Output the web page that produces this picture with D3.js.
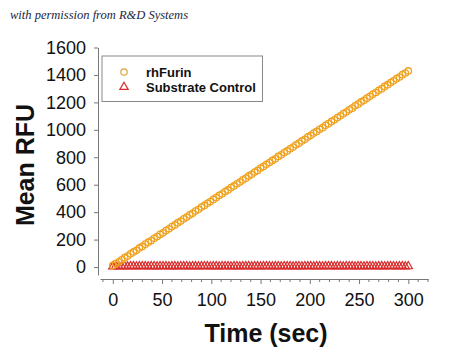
<!DOCTYPE html>
<html>
<head>
<meta charset="utf-8">
<script src="https://cdn.jsdelivr.net/npm/d3@7/dist/d3.min.js"></script>
<style>
html,body{margin:0;padding:0;background:#fff;}
svg{display:block;}
</style>
</head>
<body>
<script>
// ---- data ----
const times = [0,3,6,9,12,15,18,21,24,27,30,33,36,39,42,45,48,51,54,57,60,63,66,69,72,75,78,81,84,87,90,93,96,99,102,105,108,111,114,117,120,123,126,129,132,135,138,141,144,147,150,153,156,159,162,165,168,171,174,177,180,183,186,189,192,195,198,201,204,207,210,213,216,219,222,225,228,231,234,237,240,243,246,249,252,255,258,261,264,267,270,273,276,279,282,285,288,291,294,297,300];
const rhFurin = [12,25,38,52,68,80,96,110,122,139,150,167,181,193,210,222,238,250,266,279,295,307,323,335,352,364,380,392,408,421,437,449,465,477,493,506,522,534,550,562,579,591,607,619,635,648,664,676,692,704,721,733,749,761,777,789,806,818,834,846,862,875,891,903,919,931,948,960,976,988,1004,1016,1033,1045,1061,1073,1089,1102,1118,1130,1146,1158,1175,1187,1203,1215,1231,1244,1260,1272,1288,1300,1316,1329,1345,1357,1373,1385,1402,1414,1429];
const substrateControl = [4,5,4,5,5,4,5,5,4,5,5,5,4,5,5,4,5,5,5,4,5,5,4,5,5,5,4,5,5,4,5,5,5,4,5,5,4,5,5,5,4,5,5,4,5,5,5,4,5,5,4,5,5,5,4,5,5,4,5,5,5,4,5,5,4,5,5,5,4,5,5,4,5,5,5,4,5,5,4,5,5,5,4,5,5,4,5,5,5,4,5,5,4,5,5,5,4,5,5,4,5];
const seriesNames = ["rhFurin", "Substrate Control"];
const yTicks = [0,200,400,600,800,1000,1200,1400,1600];
const xTicks = [0,50,100,150,200,250,300];
const caption = "with permission from R&D Systems";
const xTitle = "Time (sec)";
const yTitle = "Mean RFU";

// ---- drawing ----
const W = 450, H = 355;
const svg = d3.select("body").append("svg").attr("width", W).attr("height", H);

const x = d3.scaleLinear().domain([-13, 320]).range([100, 428]);
const y = d3.scaleLinear().domain([-58, 1600]).range([275, 47.5]);

const orange = "#EFA21E";
const red = "#D92B2B";
const font = "'Liberation Sans', Arial, sans-serif";

// caption
svg.append("text").attr("x", 10).attr("y", 19)
  .attr("font-family", "'Liberation Serif', 'DejaVu Serif', serif")
  .attr("font-style", "italic").attr("font-size", 12.5)
  .attr("fill", "#1c2640").text(caption);

// y axis
const yAxis = d3.axisLeft(y).tickValues(yTicks).tickFormat(d3.format("d"))
  .tickSize(4).tickPadding(8).tickSizeOuter(0);
const gy = svg.append("g").attr("transform", "translate(98,0)").call(yAxis);
gy.select(".domain").attr("stroke", "#777");
gy.selectAll(".tick line").attr("stroke", "#777");
gy.selectAll(".tick text").attr("font-family", font)
  .attr("font-size", 18).attr("fill", "#111");

// x axis
const xAxis = d3.axisBottom(x).tickValues(xTicks).tickFormat(d3.format("d"))
  .tickSize(5).tickPadding(9).tickSizeOuter(0);
const gx = svg.append("g").attr("transform", "translate(0,279)").call(xAxis);
gx.select(".domain").attr("stroke", "#777");
gx.selectAll(".tick line").attr("stroke", "#777");
gx.selectAll(".tick text").attr("font-family", font)
  .attr("font-size", 18).attr("fill", "#111");
// minor x ticks
const minor = d3.range(-10, 321, 10).filter(v => v % 50 !== 0);
svg.append("g").selectAll("line").data(minor).join("line")
  .attr("x1", d => x(d)).attr("x2", d => x(d))
  .attr("y1", 279).attr("y2", 282).attr("stroke", "#777");

// axis titles
svg.append("text").attr("transform", "translate(34,165) rotate(-90)")
  .attr("text-anchor", "middle").attr("font-family", font)
  .attr("font-weight", "bold").attr("font-size", 25).attr("fill", "#111").text(yTitle);
svg.append("text").attr("x", 266).attr("y", 342)
  .attr("text-anchor", "middle").attr("font-family", font)
  .attr("font-weight", "bold").attr("font-size", 25).attr("fill", "#111").text(xTitle);

// substrate control triangles
const tri = d3.symbol().type(d3.symbolTriangle).size(30);
svg.append("g").selectAll("path").data(times.map((t, i) => [t, substrateControl[i]])).join("path")
  .attr("d", tri)
  .attr("transform", d => `translate(${x(d[0])},${y(d[1])})`)
  .attr("fill", "none").attr("stroke", red).attr("stroke-width", 1.2);

// rhFurin circles
svg.append("g").selectAll("circle").data(times.map((t, i) => [t, rhFurin[i]])).join("circle")
  .attr("cx", d => x(d[0])).attr("cy", d => y(d[1])).attr("r", 3.2)
  .attr("fill", "none").attr("stroke", orange).attr("stroke-width", 1.3);

// legend
const lg = svg.append("g");
lg.append("rect").attr("x", 102).attr("y", 56).attr("width", 160.5).attr("height", 45.5)
  .attr("fill", "#fff").attr("stroke", "#888").attr("stroke-width", 1);
lg.append("circle").attr("cx", 124).attr("cy", 72).attr("r", 3.2)
  .attr("fill", "none").attr("stroke", "#D9A43A").attr("stroke-width", 1.2);
lg.append("path").attr("d", tri).attr("transform", "translate(124,87)")
  .attr("fill", "none").attr("stroke", red).attr("stroke-width", 1.2);
seriesNames.forEach((n, i) => {
  lg.append("text").attr("x", 146).attr("y", 76.5 + i * 15)
    .attr("font-family", font)
    .attr("font-weight", "bold").attr("font-size", 13).attr("fill", "#111").text(n);
});
</script>
</body>
</html>
